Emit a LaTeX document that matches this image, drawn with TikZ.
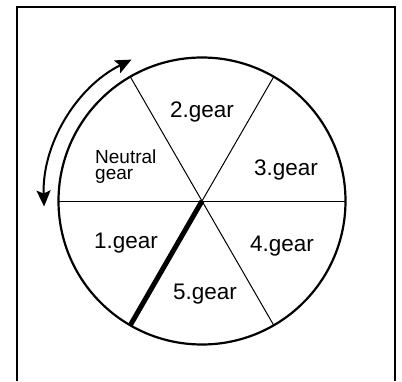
\documentclass[tikz,border=0pt]{standalone}
\usepackage{fontspec}
\setmainfont{Liberation Sans}
\usepackage{tikz}
\usetikzlibrary{arrows.meta, calc}

\tikzset{
  gearlabel/.style={anchor=base, inner sep=0pt, font=\fontsize{22.5}{24}\selectfont},
  spoke/.style={line width=1pt},
}

\begin{document}
\begin{tikzpicture}[x=1pt, y=1pt]
    \useasboundingbox (0,0) rectangle (402,381);
    % outer frame (open at the bottom)
    \draw[line width=1.8pt] (17,0) -- (17,374) -- (395,374) -- (395,0);

    % dial
    \coordinate (c) at (202,180);
    \draw[line width=2.2pt] (c) circle[radius=143.5pt];
    \draw[spoke] ($(c)+(180:143.5pt)$) -- ($(c)+(0:143.5pt)$);
    \draw[spoke] (c) -- ($(c)+(60:143.5pt)$);
    \draw[spoke] (c) -- ($(c)+(120:143.5pt)$);
    \draw[spoke] (c) -- ($(c)+(300:143.5pt)$);
    \draw[line width=5pt] (c) -- ($(c)+(240:143.5pt)$);

    % shift direction
    \draw[line width=2pt, {Stealth[length=16pt, width=14pt, inset=3pt]}-{Stealth[length=16pt, width=14pt, inset=3pt]}]
      ($(c)+(182:158pt)$) arc[start angle=182, end angle=116.5, radius=158pt];

    % gear positions
    \node[gearlabel] (g2) at (202,263.5) {2.gear};
    \node[gearlabel] (g3) at (286,205) {3.gear};
    \node[gearlabel] (g1) at (126,132.7) {1.gear};
    \node[gearlabel] (g4) at (282,129.3) {4.gear};
    \node[gearlabel] (g5) at (205,81.7) {5.gear};
    \node[anchor=base west, inner sep=0pt, align=left,
          font=\fontsize{19}{16}\selectfont] (neutral) at (95,201.7) {Neutral\\gear};
\end{tikzpicture}
\end{document}
